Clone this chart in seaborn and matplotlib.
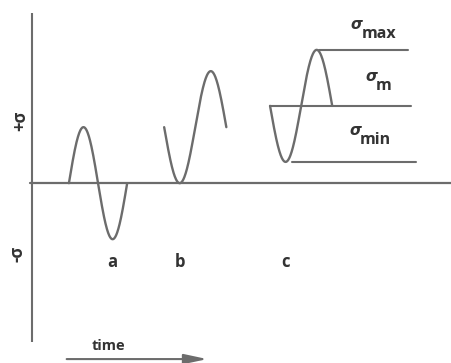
import numpy as np
import pandas as pd
import matplotlib
matplotlib.use("Agg")
import matplotlib.pyplot as plt
import seaborn as sns

# Three stress cycles: a = fully reversed, b = repeated, c = fluctuating
cycle_labels = ["a", "b", "c"]
cycle_start = [0.66, 2.36, 4.25]      # time at which each cycle begins
cycle_period = [1.04, 1.11, 1.11]     # duration of one cycle
cycle_mean = [0.0, 1.0, 1.38]         # mean stress (units of stress amplitude)
cycle_amp = [1.0, 1.0, 1.0]           # stress amplitude
cycle_sign = [1, -1, -1]              # +1 starts rising, -1 starts falling

axis_top, axis_bottom = 3.04, -2.84
x_min, x_max = -0.57, 7.48
y_min, y_max = -3.21, 3.27

line_col = "#6c6c6c"
text_col = "#333333"

sns.set_theme(style="white")
plt.rcParams["font.family"] = ["Open Sans", "DejaVu Sans"]

rows = []
for lab, t0, per, m, a, s in zip(cycle_labels, cycle_start, cycle_period,
                                 cycle_mean, cycle_amp, cycle_sign):
    t = np.linspace(0, per, 200)
    for ti in t:
        rows.append({"cycle": lab, "time": t0 + ti,
                     "stress": m + s * a * np.sin(2 * np.pi * ti / per)})
df = pd.DataFrame(rows)

fig = plt.figure(figsize=(4.51, 3.63), dpi=100)
ax = fig.add_axes([0, 0, 1, 1])
ax.set_xlim(x_min, x_max)
ax.set_ylim(y_min, y_max)
ax.axis("off")

# stress axis and zero line
ax.plot([0, 0], [axis_bottom, axis_top], color=line_col, lw=1.5,
        solid_capstyle="butt")
ax.plot([-0.04, x_max], [0, 0], color=line_col, lw=1.6)

sns.lineplot(data=df, x="time", y="stress", units="cycle", estimator=None,
             sort=False, color=line_col, lw=1.7, ax=ax, legend=False)

# cycle labels under each trough
for lab, t0, per, m, a, s in zip(cycle_labels, cycle_start, cycle_period,
                                 cycle_mean, cycle_amp, cycle_sign):
    trough_t = t0 + per * (0.75 if s > 0 else 0.25)
    ax.text(trough_t, -1.41, lab, ha="center", va="center", fontsize=12,
            fontweight="bold", color=text_col)

# levels of cycle c
c_t0, c_per = cycle_start[2], cycle_period[2]
c_m, c_a = cycle_mean[2], cycle_amp[2]
levels = [("max", c_m + c_a, c_t0 + 0.75 * c_per + 0.05, 6.71, 5.88, 0.21),
          ("m", c_m, c_t0, 6.77, 6.14, 0.28),
          ("min", c_m - c_a, c_t0 + 0.25 * c_per + 0.11, 6.86, 5.86, 0.32)]
for sub, yv, xs, xe, xl, dy in levels:
    ax.plot([xs, xe], [yv, yv], color=line_col, lw=1.5)
    base = yv + dy
    ax.text(xl + 0.02, base + 0.16, "σ", ha="right", va="baseline",
            fontsize=11, fontstyle="italic", fontweight="bold",
            color=text_col, family=["DejaVu Sans"])
    ax.text(xl, base, sub, ha="left", va="baseline", fontsize=11.5,
            fontweight="bold", color=text_col)

# stress sign labels on the vertical axis
ax.text(-0.21, 1.11, "+σ", rotation=90, ha="center", va="center",
        fontsize=12, fontweight="bold", color=text_col)
ax.text(-0.25, -1.27, "-σ", rotation=90, ha="center", va="center",
        fontsize=12, fontweight="bold", color=text_col)

# time direction arrow
ax.text(1.36, -2.91, "time", ha="center", va="center", fontsize=10.5,
        fontweight="bold", color=text_col)
ax.annotate("", xy=(3.13, -3.14), xytext=(0.62, -3.14),
            arrowprops=dict(arrowstyle="-|>,head_length=1.4,head_width=0.3",
                            mutation_scale=10, color=line_col, lw=1.5,
                            shrinkA=0, shrinkB=0))

fig.savefig("out.png", dpi=100)
